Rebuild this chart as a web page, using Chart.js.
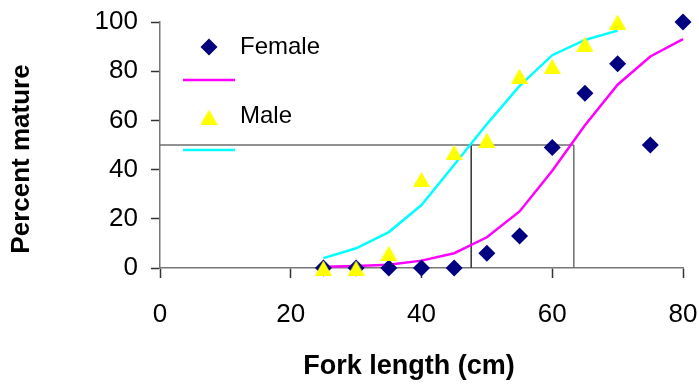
<!DOCTYPE html>
<html>
<head>
<meta charset="utf-8">
<script src="https://cdn.jsdelivr.net/npm/chart.js@4.4.0/dist/chart.umd.min.js"></script>
<style>
  html, body { margin: 0; padding: 0; background: #fff; }
  canvas { display: block; }
</style>
</head>
<body>
<canvas id="maturity" width="699" height="385"></canvas>
<script>
// ── Data ──────────────────────────────────────────────────────────────────────
const lengths     = [25, 30, 35, 40, 45, 50, 55, 60, 65, 70, 75, 80];
const femaleObs   = [0, 0, 0, 0, 0, 6, 13, 49, 71, 83, 50, 100];
const femaleFit   = [0.5, 0.8, 1.3, 3, 6, 12.5, 23, 39.5, 58, 74.5, 86, 93];
const maleLengths = [25, 30, 35, 40, 45, 50, 55, 60, 65, 70];
const maleObs     = [0, 0, 6, 36, 47, 52, 78, 82, 91, 100];
const maleFit     = [4, 8, 14.6, 25.6, 42, 58.5, 74, 86.5, 92.7, 96.5];

// length at 50 % maturity
const l50Male   = 47.6;
const l50Female = 63.3;
const halfMature = 50;

const xTicks = [0, 20, 40, 60, 80];
const yTicks = [0, 20, 40, 60, 80, 100];

const xTitle = "Fork length (cm)";
const yTitle = "Percent mature";

const FONT = "'Liberation Sans', Arial, sans-serif";
const pts = (xs, ys) => xs.map((x, i) => ({ x: x, y: ys[i] }));

// Excel-style triangle marker (box centred on the point)
const triMarker = document.createElement("canvas");
triMarker.width = 17; triMarker.height = 15;
(() => {
    const c = triMarker.getContext("2d");
    c.fillStyle = "#ffff00";
    c.beginPath(); c.moveTo(0, 15); c.lineTo(8.5, 0); c.lineTo(17, 15); c.closePath(); c.fill();
})();

// ── Datasets (index 0 is drawn on top) ────────────────────────────────────────
const datasets = [
    {
        label: "Male", data: pts(maleLengths, maleObs), showLine: false,
        pointStyle: triMarker, pointRadius: 9, pointBackgroundColor: "#ffff00",
        pointBorderColor: "#ffff00", pointBorderWidth: 0, clip: false
    },
    {
        label: "Female", data: pts(lengths, femaleObs), showLine: false,
        pointStyle: "rectRot", pointRadius: 8.5, pointBackgroundColor: "#000080",
        pointBorderColor: "#000080", pointBorderWidth: 0, clip: false
    },
    {
        label: "maleFit", data: pts(maleLengths, maleFit), borderColor: "#00ffff",
        borderWidth: 2.5, pointRadius: 0, tension: 0, clip: false
    },
    {
        label: "femaleFit", data: pts(lengths, femaleFit), borderColor: "#ff00ff",
        borderWidth: 2.5, pointRadius: 0, tension: 0, clip: false
    },
    {
        label: "half", data: [{ x: 0, y: halfMature }, { x: l50Female, y: halfMature }],
        borderColor: "#6e6e6e", borderWidth: 1.5, pointRadius: 0
    },
    {
        label: "l50m", data: [{ x: l50Male, y: 0 }, { x: l50Male, y: halfMature }],
        borderColor: "#333", borderWidth: 1.5, pointRadius: 0
    },
    {
        label: "l50f", data: [{ x: l50Female, y: 0 }, { x: l50Female, y: halfMature }],
        borderColor: "#6e6e6e", borderWidth: 1.5, pointRadius: 0
    }
];

// ── Legend drawn inside plot area ─────────────────────────────────────────────
const legendInside = {
    id: "legendInside",
    afterDatasetsDraw(chart) {
        const ctx = chart.ctx;
        const ds = chart.data.datasets;
        const female = ds[1], male = ds[0];
        ctx.save();
        Chart.helpers.drawPoint(ctx, { pointStyle: female.pointStyle, radius: female.pointRadius, borderWidth: 0 }, 209, 47);
        ctx.fillStyle = female.pointBackgroundColor; ctx.fill();
        ctx.drawImage(male.pointStyle, 209 - male.pointStyle.width / 2, 117 - male.pointStyle.height / 2);

        ctx.lineWidth = 2.5;
        ctx.strokeStyle = ds[3].borderColor;
        ctx.beginPath(); ctx.moveTo(183, 80); ctx.lineTo(235, 80); ctx.stroke();
        ctx.strokeStyle = ds[2].borderColor;
        ctx.beginPath(); ctx.moveTo(183, 150); ctx.lineTo(235, 150); ctx.stroke();

        ctx.fillStyle = "#000";
        ctx.font = "24px " + FONT;
        ctx.textBaseline = "middle";
        ctx.fillText(female.label, 240, 47);
        ctx.fillText(male.label, 240, 116);
        ctx.restore();
    }
};

// axis titles sit off-centre in the original, so place them by hand
const axisTitles = {
    id: "axisTitles",
    afterDraw(chart) {
        const ctx = chart.ctx;
        ctx.save();
        ctx.fillStyle = "#000";
        ctx.textAlign = "center";
        ctx.textBaseline = "middle";
        ctx.font = "bold 27px " + FONT;
        ctx.fillText(xTitle, 409, 367);
        ctx.translate(22, 159);
        ctx.rotate(-Math.PI / 2);
        ctx.font = "bold 26px " + FONT;
        ctx.fillText(yTitle, 0, 0);
        ctx.restore();
    }
};

const noOverhang = s => {
    s.paddingLeft = 0; s.paddingRight = 0; s.paddingTop = 0; s.paddingBottom = 0;
};

// ── Chart ─────────────────────────────────────────────────────────────────────
new Chart(document.getElementById("maturity"), {
    type: "line",
    data: { datasets: datasets },
    plugins: [legendInside, axisTitles],
    options: {
        responsive: false,
        animation: false,
        layout: { padding: { top: 22, right: 16, left: 0, bottom: 0 } },
        plugins: { legend: { display: false }, tooltip: { enabled: false } },
        scales: {
            x: {
                type: "linear", min: 0, max: 80,
                afterBuildTicks: s => { s.ticks = xTicks.map(v => ({ value: v })); },
                afterFit: s => { s.height = 117; noOverhang(s); },
                border: { color: "#777", width: 1.5 },
                grid: { drawOnChartArea: false, drawTicks: true, tickLength: 10, tickColor: "#333", tickWidth: 1.5 },
                ticks: { color: "#000", padding: 21, font: { family: FONT, size: 26 } }
            },
            y: {
                type: "linear", min: 0, max: 100,
                afterBuildTicks: s => { s.ticks = yTicks.map(v => ({ value: v })); },
                afterFit: s => { s.width = 160; noOverhang(s); },
                border: { color: "#777", width: 1.5 },
                grid: { drawOnChartArea: false, drawTicks: true, tickLength: 9, tickColor: "#333", tickWidth: 1.5 },
                ticks: { color: "#000", padding: 13, font: { family: FONT, size: 26 } }
            }
        }
    }
});
</script>
</body>
</html>
